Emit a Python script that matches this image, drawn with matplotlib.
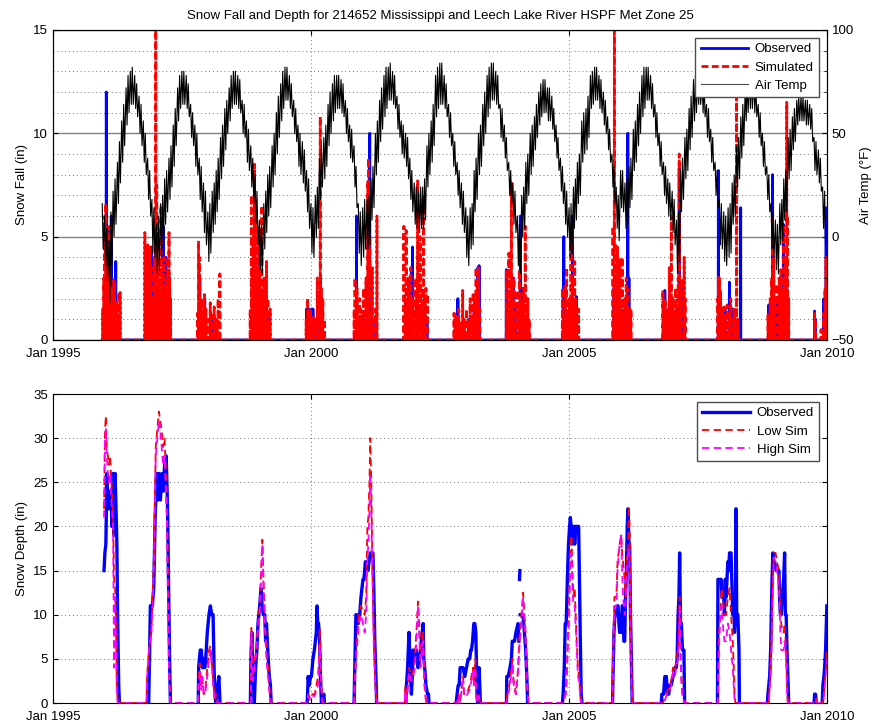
import numpy as np
import pandas as pd
import matplotlib
matplotlib.use("Agg")
import matplotlib.pyplot as plt
import matplotlib.dates as mdates
from matplotlib.ticker import MultipleLocator
from matplotlib.lines import Line2D

plt.rcParams['font.family'] = ['Liberation Sans', 'DejaVu Sans']
plt.rcParams['font.size'] = 9.5

title = "Snow Fall and Depth for 214652 Mississippi and Leech Lake River HSPF Met Zone 25"
data_start = "1995-12-15"
data_end = "2009-12-31"
x_ticks = ["1995-01-01", "2000-01-01", "2005-01-01", "2010-01-01"]

# ---------------- air temperature band (deg F), 1st and 15th of each month
# upper and lower edge of the daily trace
temp_start = "1995-12-15"
air_temp_hi = [16,
    10, 4, -2, 12, 22, 28, 36, 46, 56, 64, 72, 78, 80, 82, 78, 74, 68, 64, 56, 50, 38, 32, 18, 14,    # 1996
    6, 10, 16, 20, 28, 32, 38, 44, 54, 62, 72, 78, 80, 80, 78, 74, 64, 60, 54, 50, 38, 34, 26, 22,    # 1997
    12, 16, 22, 26, 32, 38, 48, 54, 62, 66, 72, 78, 80, 80, 78, 76, 66, 64, 56, 52, 44, 38, 30, 22,   # 1998
    8, 6, 16, 22, 30, 34, 44, 50, 60, 68, 74, 80, 82, 82, 78, 74, 66, 62, 54, 50, 46, 42, 32, 28,     # 1999
    16, 14, 20, 24, 38, 44, 48, 54, 64, 70, 74, 78, 78, 78, 76, 74, 66, 62, 54, 52, 44, 34, 16, 12,   # 2000
    14, 18, 18, 20, 28, 34, 50, 56, 66, 72, 78, 82, 82, 84, 80, 78, 68, 64, 56, 54, 50, 48, 38, 32,   # 2001
    26, 24, 22, 24, 24, 28, 44, 50, 56, 64, 78, 82, 84, 84, 78, 74, 64, 60, 50, 46, 36, 32, 26, 22,   # 2002
    14, 10, 14, 16, 32, 38, 50, 54, 64, 70, 78, 82, 84, 84, 80, 78, 64, 62, 54, 48, 36, 32, 26, 22,   # 2003
    10, 6, 20, 24, 36, 40, 50, 54, 58, 64, 70, 74, 76, 76, 72, 72, 68, 62, 54, 48, 38, 34, 26, 22,    # 2004
    14, 16, 24, 28, 36, 40, 56, 60, 62, 68, 78, 80, 82, 82, 78, 76, 70, 66, 58, 52, 40, 34, 24, 20,   # 2005
    32, 32, 26, 28, 34, 38, 52, 56, 64, 70, 78, 82, 82, 82, 78, 74, 64, 60, 50, 46, 36, 34, 28, 26,   # 2006
    22, 18, 8, 12, 32, 38, 48, 52, 62, 68, 76, 78, 80, 80, 76, 74, 64, 62, 52, 48, 36, 32, 18, 16,    # 2007
    12, 10, 14, 16, 26, 30, 44, 48, 58, 64, 72, 76, 78, 78, 76, 74, 64, 60, 50, 46, 34, 30, 16, 12,   # 2008
    8, 6, 16, 18, 28, 32, 48, 52, 58, 62, 66, 68, 68, 68, 66, 66, 64, 62, 48, 46, 42, 38, 24, 22,     # 2009
]
air_temp_lo = [-6,
    -14, -22, -32, -14, 0, 6, 16, 26, 36, 44, 54, 60, 64, 64, 62, 58, 50, 44, 36, 30, 18, 10, -8, -10,  # 1996
    -18, -16, -10, -4, 6, 12, 18, 24, 34, 44, 56, 62, 64, 64, 62, 58, 48, 44, 34, 30, 18, 12, 2, -4,    # 1997
    -12, -8, 2, 6, 12, 18, 28, 34, 42, 50, 56, 62, 64, 64, 62, 60, 50, 48, 36, 32, 24, 16, 6, -4,       # 1998
    -16, -18, -6, 2, 10, 14, 24, 30, 40, 48, 56, 62, 66, 66, 62, 58, 50, 46, 34, 30, 26, 22, 12, 4,     # 1999
    -8, -10, 0, 4, 18, 24, 28, 34, 44, 50, 56, 60, 62, 62, 60, 58, 50, 46, 38, 36, 24, 14, -8, -14,     # 2000
    -10, -6, -6, -4, 8, 14, 30, 36, 46, 52, 58, 62, 66, 66, 64, 62, 52, 48, 40, 38, 34, 28, 18, 12,     # 2001
    6, 4, 2, 4, 4, 8, 24, 30, 36, 44, 58, 62, 64, 64, 62, 58, 48, 44, 34, 30, 20, 14, 6, 2,             # 2002
    -10, -14, -6, -4, 12, 18, 30, 34, 44, 50, 58, 62, 66, 66, 64, 62, 48, 46, 38, 32, 20, 16, 6, 2,     # 2003
    -14, -18, 0, 4, 16, 20, 30, 34, 42, 48, 54, 58, 60, 60, 56, 56, 52, 46, 38, 32, 22, 16, 6, 0,       # 2004
    -10, -8, 4, 8, 16, 20, 36, 40, 42, 48, 62, 64, 66, 66, 62, 60, 54, 50, 42, 36, 24, 16, 4, -2,       # 2005
    14, 12, 4, 6, 14, 18, 32, 36, 44, 50, 58, 62, 66, 66, 62, 58, 48, 44, 34, 30, 20, 16, 10, 8,        # 2006
    2, -4, -18, -12, 12, 18, 28, 32, 42, 48, 56, 60, 64, 64, 60, 58, 48, 46, 36, 32, 20, 14, -4, -6,    # 2007
    -12, -14, -10, -8, 6, 10, 24, 28, 38, 44, 56, 60, 62, 62, 60, 58, 48, 44, 34, 30, 18, 12, -6, -10,  # 2008
    -16, -18, -4, -2, 8, 12, 28, 32, 42, 46, 54, 56, 56, 56, 54, 54, 52, 46, 32, 30, 26, 22, 4, -4,     # 2009
]

# ---------------- daily snow fall events (in)
obs_fall = [
    ("1995-12-22", 1.5), ("1996-01-13", 12.0), ("1996-01-30", 3.0), ("1996-02-07", 5.5), ("1996-02-17", 6.0),
    ("1996-03-04", 1.0), ("1996-03-20", 3.8), ("1996-04-02", 1.0),
    ("1996-11-28", 4.5), ("1996-12-05", 2.0), ("1996-12-20", 3.0), ("1997-01-10", 2.0), ("1997-01-20", 1.0),
    ("1997-02-21", 5.5), ("1997-03-01", 3.0), ("1997-03-10", 4.0), ("1997-03-25", 2.0),
    ("1997-11-05", 3.0), ("1997-12-10", 2.0), ("1998-01-25", 1.0), ("1998-02-20", 1.0),
    ("1998-11-15", 1.0), ("1998-11-28", 8.0), ("1998-12-20", 2.0), ("1999-01-02", 5.0), ("1999-01-15", 1.0),
    ("1999-02-18", 2.0), ("1999-03-05", 1.0),
    ("1999-12-01", 1.5), ("1999-12-05", 1.5), ("1999-12-10", 1.5), ("1999-12-16", 1.5), ("2000-01-05", 1.5),
    ("2000-01-15", 1.5), ("2000-02-15", 1.0), ("2000-03-08", 3.0), ("2000-03-20", 1.0),
    ("2000-11-18", 6.0), ("2000-12-15", 1.0), ("2001-01-05", 1.0), ("2001-02-20", 10.0), ("2001-03-25", 1.0),
    ("2001-11-10", 1.0), ("2001-12-12", 3.5), ("2001-12-20", 4.5), ("2002-01-20", 1.0), ("2002-02-25", 1.0),
    ("2002-04-01", 1.0),
    ("2002-11-06", 2.0), ("2002-12-15", 0.8), ("2003-01-20", 1.0), ("2003-03-01", 1.5), ("2003-03-28", 3.5),
    ("2003-04-05", 3.6),
    ("2003-10-15", 3.4), ("2003-11-05", 1.0), ("2003-12-05", 3.0), ("2003-12-20", 1.5), ("2004-01-22", 6.0),
    ("2004-02-05", 2.5), ("2004-02-28", 1.0), ("2004-03-20", 1.0),
    ("2004-11-25", 5.0), ("2004-12-10", 1.0), ("2005-01-26", 6.0), ("2005-02-05", 1.0), ("2005-02-22", 2.1),
    ("2005-11-15", 2.5), ("2005-12-15", 2.5), ("2006-01-12", 1.0), ("2006-02-21", 10.0), ("2006-03-01", 3.0),
    ("2006-03-10", 1.0),
    ("2006-11-10", 2.4), ("2006-12-05", 1.0), ("2007-01-10", 1.0), ("2007-02-01", 1.5), ("2007-02-20", 8.3),
    ("2007-03-05", 2.8), ("2007-03-25", 2.0),
    ("2007-11-24", 8.2), ("2007-12-15", 1.0), ("2008-01-10", 1.5), ("2008-02-10", 2.8), ("2008-03-05", 1.5),
    ("2008-04-30", 6.4),
    ("2008-11-15", 1.7), ("2008-12-12", 8.0), ("2009-01-10", 2.0), ("2009-02-01", 1.0), ("2009-02-26", 5.6),
    ("2009-03-22", 3.0),
    ("2009-10-05", 1.4), ("2009-10-12", 1.0), ("2009-12-10", 2.0), ("2009-12-26", 6.4), ("2009-12-30", 4.5),
]

sim_fall = [
    ("1995-12-20", 1.5), ("1995-12-26", 3.0), ("1996-01-02", 6.0), ("1996-01-09", 6.6), ("1996-01-15", 2.0),
    ("1996-01-20", 1.2), ("1996-01-26", 3.5), ("1996-02-03", 5.5), ("1996-02-10", 1.0), ("1996-02-18", 2.5),
    ("1996-02-25", 1.5), ("1996-03-05", 2.9), ("1996-03-12", 2.8), ("1996-03-18", 1.0), ("1996-03-26", 1.8),
    ("1996-04-05", 1.2), ("1996-04-12", 2.3), ("1996-04-20", 2.3),
    ("1996-10-12", 5.2), ("1996-10-22", 2.0), ("1996-11-01", 4.6), ("1996-11-08", 3.0), ("1996-11-15", 4.5),
    ("1996-11-22", 2.5), ("1996-12-01", 3.5), ("1996-12-10", 2.0), ("1996-12-18", 4.0), ("1996-12-28", 15.0),
    ("1997-01-04", 7.5), ("1997-01-10", 3.0), ("1997-01-17", 2.5), ("1997-01-25", 4.0), ("1997-02-03", 6.5),
    ("1997-02-10", 2.0), ("1997-02-18", 3.5), ("1997-02-25", 4.0), ("1997-03-05", 2.5), ("1997-03-14", 3.0),
    ("1997-03-22", 4.0), ("1997-04-01", 5.2), ("1997-04-06", 3.0), ("1997-04-12", 2.0),
    ("1997-10-20", 1.3), ("1997-10-27", 4.8), ("1997-11-03", 4.0), ("1997-11-10", 1.5), ("1997-11-18", 2.0),
    ("1997-11-28", 1.3), ("1997-12-08", 2.2), ("1997-12-18", 1.5), ("1998-01-05", 1.0), ("1998-01-18", 1.8),
    ("1998-02-01", 1.2), ("1998-02-15", 1.6), ("1998-03-03", 1.0), ("1998-03-15", 2.0), ("1998-03-27", 3.2),
    ("1998-10-28", 1.5), ("1998-11-05", 7.0), ("1998-11-10", 3.0), ("1998-11-18", 5.0), ("1998-11-28", 8.5),
    ("1998-12-05", 4.0), ("1998-12-12", 6.3), ("1998-12-18", 2.0), ("1998-12-26", 3.5), ("1999-01-03", 5.0),
    ("1999-01-10", 2.5), ("1999-01-18", 6.5), ("1999-01-26", 2.0), ("1999-02-03", 3.0), ("1999-02-12", 1.5),
    ("1999-02-20", 3.8), ("1999-03-02", 2.0), ("1999-03-10", 1.0), ("1999-03-18", 1.5),
    ("1999-11-28", 1.0), ("1999-12-08", 2.0), ("1999-12-16", 1.0), ("1999-12-28", 1.5), ("2000-01-10", 0.8),
    ("2000-01-20", 1.2), ("2000-02-05", 1.0), ("2000-02-15", 3.0), ("2000-02-25", 2.0), ("2000-03-07", 10.8),
    ("2000-03-15", 2.5), ("2000-03-25", 2.0), ("2000-04-05", 1.0),
    ("2000-11-02", 1.5), ("2000-11-08", 3.0), ("2000-11-15", 2.0), ("2000-11-22", 2.5), ("2000-12-01", 1.0),
    ("2000-12-10", 2.0), ("2000-12-18", 1.5), ("2000-12-28", 1.0), ("2001-01-08", 2.5), ("2001-01-16", 1.0),
    ("2001-01-25", 3.0), ("2001-02-06", 7.7), ("2001-02-12", 8.8), ("2001-02-20", 5.0), ("2001-03-01", 2.0),
    ("2001-03-10", 3.5), ("2001-03-20", 1.0), ("2001-04-02", 1.5), ("2001-04-12", 6.0),
    ("2001-10-20", 5.5), ("2001-10-28", 2.0), ("2001-11-05", 5.3), ("2001-11-12", 1.5), ("2001-11-20", 3.0),
    ("2001-11-28", 1.0), ("2001-12-08", 3.5), ("2001-12-15", 2.0), ("2001-12-26", 1.5), ("2002-01-05", 3.0),
    ("2002-01-15", 2.0), ("2002-01-25", 7.7), ("2002-02-02", 3.0), ("2002-02-12", 5.0), ("2002-02-20", 1.5),
    ("2002-03-01", 2.5), ("2002-03-07", 7.0), ("2002-03-15", 2.0), ("2002-03-25", 2.5), ("2002-04-05", 2.2),
    ("2002-10-10", 1.3), ("2002-10-18", 1.2), ("2002-11-01", 1.0), ("2002-11-12", 1.5), ("2002-11-25", 0.8),
    ("2002-12-10", 2.4), ("2002-12-20", 1.0), ("2003-01-05", 1.5), ("2003-01-18", 1.0), ("2003-02-01", 2.0),
    ("2003-02-12", 1.2), ("2003-02-22", 2.3), ("2003-03-05", 2.0), ("2003-03-15", 3.5), ("2003-03-25", 2.5),
    ("2003-04-02", 3.5), ("2003-04-10", 1.5),
    ("2003-10-15", 3.4), ("2003-10-25", 1.5), ("2003-11-02", 4.2), ("2003-11-10", 2.0), ("2003-11-20", 7.6),
    ("2003-11-28", 2.5), ("2003-12-08", 3.0), ("2003-12-15", 1.5), ("2003-12-25", 2.4), ("2004-01-05", 1.5),
    ("2004-01-15", 3.4), ("2004-01-25", 2.0), ("2004-02-05", 1.5), ("2004-02-15", 2.5), ("2004-02-26", 5.5),
    ("2004-03-05", 2.0), ("2004-03-15", 2.0), ("2004-03-25", 1.0),
    ("2004-11-15", 2.5), ("2004-11-25", 1.0), ("2004-12-05", 2.6), ("2004-12-15", 3.5), ("2004-12-25", 1.5),
    ("2005-01-05", 2.0), ("2005-01-15", 5.0), ("2005-01-22", 3.0), ("2005-02-01", 1.5), ("2005-02-10", 3.8),
    ("2005-02-18", 2.0), ("2005-02-28", 1.0), ("2005-03-10", 1.5),
    ("2005-11-08", 5.5), ("2005-11-14", 3.0), ("2005-11-18", 15.0), ("2005-11-24", 4.7), ("2005-12-02", 2.0),
    ("2005-12-10", 4.5), ("2005-12-16", 2.5), ("2005-12-24", 3.9), ("2006-01-03", 1.5), ("2006-01-12", 4.0),
    ("2006-01-20", 2.0), ("2006-02-01", 2.0), ("2006-02-10", 3.0), ("2006-02-18", 2.5), ("2006-02-26", 1.5),
    ("2006-03-08", 1.5), ("2006-03-15", 1.5),
    ("2006-10-27", 2.4), ("2006-11-03", 1.5), ("2006-11-12", 2.0), ("2006-11-20", 1.0), ("2006-12-01", 1.5),
    ("2006-12-12", 3.5), ("2006-12-26", 6.0), ("2007-01-05", 2.0), ("2007-01-15", 1.5), ("2007-01-25", 2.5),
    ("2007-02-05", 1.5), ("2007-02-13", 3.0), ("2007-02-20", 9.0), ("2007-03-01", 2.0), ("2007-03-10", 3.0),
    ("2007-03-27", 4.0), ("2007-04-03", 2.0),
    ("2007-11-20", 2.0), ("2007-11-24", 3.1), ("2007-12-02", 3.0), ("2007-12-10", 2.4), ("2007-12-20", 1.5),
    ("2008-01-02", 1.6), ("2008-01-12", 1.0), ("2008-01-25", 1.7), ("2008-02-08", 1.3), ("2008-02-20", 2.0),
    ("2008-03-02", 1.0), ("2008-03-15", 1.5), ("2008-04-01", 14.0), ("2008-04-10", 1.0),
    ("2008-11-10", 1.3), ("2008-11-25", 2.0), ("2008-12-05", 3.0), ("2008-12-12", 6.0), ("2008-12-20", 4.0),
    ("2008-12-28", 2.0), ("2009-01-08", 2.7), ("2009-01-18", 1.5), ("2009-01-28", 3.0), ("2009-02-08", 3.4),
    ("2009-02-18", 2.5), ("2009-02-28", 5.6), ("2009-03-08", 3.0), ("2009-03-15", 4.0), ("2009-03-22", 11.5),
    ("2009-03-28", 6.0), ("2009-04-05", 2.0),
    ("2009-10-05", 1.3), ("2009-10-12", 1.0), ("2009-11-20", 0.5), ("2009-12-08", 1.3), ("2009-12-18", 2.5),
    ("2009-12-25", 4.0), ("2009-12-30", 3.0),
]

# ---------------- snow depth (in); None = no observation
obs_depth = [
    ("1995-12-28", 15), ("1996-01-03", 17), ("1996-01-10", 18), ("1996-01-18", 26), ("1996-01-24", 22),
    ("1996-02-01", 24), ("1996-02-08", 22), ("1996-02-15", 24), ("1996-02-22", 20), ("1996-03-01", 26),
    ("1996-03-08", 19), ("1996-03-15", 26), ("1996-03-22", 22), ("1996-03-28", 18), ("1996-04-02", 10),
    ("1996-04-10", 2), ("1996-04-15", 0), ("1996-07-01", None),
    ("1996-11-08", 0), ("1996-11-14", 5), ("1996-11-20", 11), ("1996-12-04", 11), ("1996-12-14", 13),
    ("1996-12-24", 21), ("1997-01-03", 26), ("1997-01-12", 23), ("1997-01-20", 26), ("1997-01-30", 23),
    ("1997-02-10", 26), ("1997-02-20", 24), ("1997-03-01", 27), ("1997-03-12", 28), ("1997-03-22", 22),
    ("1997-03-28", 15), ("1997-04-05", 5), ("1997-04-11", 0), ("1997-07-01", None),
    ("1997-10-25", 0), ("1997-10-28", 4), ("1997-11-08", 6), ("1997-11-16", 6), ("1997-11-24", 4),
    ("1997-12-03", 5), ("1997-12-10", 4), ("1997-12-17", 5), ("1997-12-28", 8), ("1998-01-09", 10),
    ("1998-01-19", 11), ("1998-01-28", 10), ("1998-02-07", 10), ("1998-02-14", 4), ("1998-02-20", 1),
    ("1998-02-26", 0), ("1998-03-05", 1), ("1998-03-20", 3), ("1998-03-28", 0), ("1998-07-01", None),
    ("1998-10-29", 0), ("1998-11-02", 5), ("1998-11-08", 8), ("1998-11-14", 4), ("1998-11-20", 3),
    ("1998-11-26", 0), ("1998-12-05", 4), ("1998-12-14", 6), ("1998-12-22", 9), ("1999-01-03", 11),
    ("1999-01-12", 13), ("1999-01-20", 11), ("1999-01-28", 10), ("1999-02-08", 10), ("1999-02-14", 7),
    ("1999-02-20", 9), ("1999-03-01", 6), ("1999-03-12", 3), ("1999-03-20", 2), ("1999-03-25", 0),
    ("1999-07-01", None),
    ("1999-12-05", 0), ("1999-12-08", 1), ("1999-12-12", 3), ("1999-12-20", 2), ("1999-12-28", 3),
    ("2000-01-04", 3), ("2000-01-15", 5), ("2000-01-25", 6), ("2000-02-01", 7), ("2000-02-08", 8),
    ("2000-02-13", 11), ("2000-02-18", 9), ("2000-02-24", 9), ("2000-03-02", 7), ("2000-03-08", 3),
    ("2000-03-15", 0), ("2000-04-01", 1), ("2000-04-06", 0), ("2000-07-01", None),
    ("2000-11-01", 0), ("2000-11-06", 4), ("2000-11-14", 10), ("2000-11-22", 10), ("2000-12-01", 9),
    ("2000-12-11", 10), ("2000-12-20", 12), ("2001-01-03", 14), ("2001-01-10", 14), ("2001-01-20", 16),
    ("2001-01-28", 16), ("2001-02-07", 15), ("2001-02-15", 16), ("2001-02-24", 17), ("2001-03-05", 17),
    ("2001-03-15", 17), ("2001-03-22", 12), ("2001-03-28", 7), ("2001-04-05", 3), ("2001-04-10", 0),
    ("2001-07-01", None),
    ("2001-11-02", 0), ("2001-11-07", 2), ("2001-11-15", 4), ("2001-11-25", 8), ("2001-12-03", 4),
    ("2001-12-12", 1), ("2001-12-18", 3), ("2001-12-24", 6), ("2001-12-30", 5), ("2002-01-05", 5),
    ("2002-01-10", 6), ("2002-01-16", 6), ("2002-01-28", 4), ("2002-02-08", 5), ("2002-02-20", 7),
    ("2002-03-05", 9), ("2002-03-10", 5), ("2002-03-16", 4), ("2002-03-25", 2), ("2002-04-05", 1),
    ("2002-04-12", 1), ("2002-04-16", 0), ("2002-07-01", None),
    ("2002-10-25", 0), ("2002-10-28", 0.5), ("2002-11-08", 2), ("2002-11-15", 2), ("2002-11-22", 4),
    ("2002-12-05", 4), ("2002-12-13", 4), ("2002-12-25", 3), ("2003-01-06", 4), ("2003-01-18", 5),
    ("2003-01-29", 5), ("2003-02-05", 6), ("2003-02-10", 6), ("2003-02-18", 7), ("2003-02-27", 9),
    ("2003-03-06", 9), ("2003-03-13", 8), ("2003-03-17", 5), ("2003-03-22", 1), ("2003-03-29", 0),
    ("2003-04-05", 4), ("2003-04-10", 2), ("2003-04-14", 0), ("2003-07-01", None),
    ("2003-10-16", 0), ("2003-10-18", 3), ("2003-10-28", 3), ("2003-11-10", 4), ("2003-11-20", 5),
    ("2003-11-26", 7), ("2003-12-02", 7), ("2003-12-12", 7), ("2003-12-22", 8), ("2004-01-06", 9),
    ("2004-01-12", 7), ("2004-01-15", None), ("2004-01-16", 14), ("2004-01-19", 15), ("2004-01-20", None),
    ("2004-01-21", 10), ("2004-02-01", 10), ("2004-02-11", 10), ("2004-02-20", 8), ("2004-02-29", 6),
    ("2004-03-08", 3), ("2004-03-14", 0), ("2004-07-01", None),
    ("2004-11-15", 0), ("2004-11-20", 1), ("2004-11-28", 4), ("2004-12-05", 9), ("2004-12-12", 9),
    ("2004-12-20", 14), ("2004-12-28", 18), ("2005-01-05", 20), ("2005-01-10", 21), ("2005-01-16", 20),
    ("2005-01-22", 18), ("2005-01-29", 20), ("2005-02-05", 20), ("2005-02-10", 18), ("2005-02-18", 20),
    ("2005-03-01", 20), ("2005-03-10", 20), ("2005-03-17", 12), ("2005-03-22", 7), ("2005-03-28", 1),
    ("2005-04-02", 0), ("2005-07-01", None),
    ("2005-11-05", 0), ("2005-11-08", 3), ("2005-11-15", 8), ("2005-11-22", 10), ("2005-12-02", 10),
    ("2005-12-08", 11), ("2005-12-14", 11), ("2005-12-20", 9), ("2005-12-25", 8), ("2006-01-01", 10),
    ("2006-01-06", 8), ("2006-01-12", 11), ("2006-01-18", 11), ("2006-01-24", 7), ("2006-01-30", 7),
    ("2006-02-05", 12), ("2006-02-11", 15), ("2006-02-17", 20), ("2006-02-22", 22), ("2006-03-01", 18),
    ("2006-03-06", 18), ("2006-03-12", 10), ("2006-03-18", 5), ("2006-03-24", 0), ("2006-07-01", None),
    ("2006-10-16", 0), ("2006-10-20", 1), ("2006-11-01", 1), ("2006-11-10", 3), ("2006-11-21", 3),
    ("2006-11-28", 1), ("2006-12-08", 1), ("2006-12-14", 2), ("2006-12-25", 2), ("2007-01-07", 3),
    ("2007-01-20", 4), ("2007-01-30", 4), ("2007-02-05", 5), ("2007-02-12", 10), ("2007-02-18", 12),
    ("2007-02-23", 17), ("2007-03-01", 9), ("2007-03-07", 9), ("2007-03-15", 6), ("2007-03-25", 6),
    ("2007-03-30", 0), ("2007-07-01", None),
    ("2007-11-18", 0), ("2007-11-21", 14), ("2007-12-02", 14), ("2007-12-14", 14), ("2007-12-20", 12),
    ("2008-01-01", 12), ("2008-01-06", 10), ("2008-01-12", 14), ("2008-01-18", 12), ("2008-01-24", 14),
    ("2008-01-30", 16), ("2008-02-05", 15), ("2008-02-11", 17), ("2008-02-22", 17), ("2008-03-05", 10),
    ("2008-03-12", 12), ("2008-03-17", 8), ("2008-03-24", 10), ("2008-03-28", 22), ("2008-04-02", 10),
    ("2008-04-10", 10), ("2008-04-18", 6), ("2008-04-21", 0), ("2008-07-01", None),
    ("2008-11-05", 0), ("2008-11-09", 1), ("2008-11-21", 3), ("2008-11-28", 6), ("2008-12-08", 14),
    ("2008-12-14", 17), ("2008-12-20", 16), ("2008-12-26", 16), ("2009-01-05", 15), ("2009-01-15", 15),
    ("2009-01-26", 15), ("2009-01-30", 12), ("2009-02-05", 10), ("2009-02-11", 10), ("2009-02-18", 12),
    ("2009-02-28", 14), ("2009-03-07", 17), ("2009-03-12", 10), ("2009-03-18", 10), ("2009-03-24", 6),
    ("2009-03-30", 3), ("2009-04-05", 0), ("2009-07-01", None),
    ("2009-10-02", 0), ("2009-10-05", 1), ("2009-10-12", 1), ("2009-10-17", 0), ("2009-10-20", None),
    ("2009-11-28", 0), ("2009-12-03", 2), ("2009-12-10", 3), ("2009-12-15", 4), ("2009-12-22", 6),
    ("2009-12-31", 11),
]

low_sim_depth = [
    ("1995-12-28", 22), ("1996-01-04", 31), ("1996-01-10", 32.5), ("1996-01-16", 29), ("1996-01-24", 28),
    ("1996-02-01", 27), ("1996-02-08", 28), ("1996-02-15", 26), ("1996-02-22", 24), ("1996-03-01", 21),
    ("1996-03-08", 14), ("1996-03-15", 13.5), ("1996-03-22", 9), ("1996-03-28", 2), ("1996-04-03", 0),
    ("1996-10-23", 0), ("1996-10-28", 3), ("1996-11-10", 6), ("1996-11-27", 8), ("1996-12-08", 13),
    ("1996-12-16", 17), ("1996-12-28", 29), ("1997-01-08", 31), ("1997-01-20", 33), ("1997-01-28", 32),
    ("1997-02-08", 31), ("1997-02-18", 29), ("1997-03-01", 30), ("1997-03-10", 26), ("1997-03-18", 22),
    ("1997-03-25", 14), ("1997-04-02", 5), ("1997-04-10", 0),
    ("1997-10-22", 0), ("1997-10-28", 3), ("1997-11-05", 4.5), ("1997-11-14", 2), ("1997-11-22", 3),
    ("1997-12-03", 1), ("1997-12-17", 2), ("1997-12-28", 4), ("1998-01-09", 6), ("1998-01-19", 6.5),
    ("1998-02-01", 4), ("1998-02-10", 2), ("1998-02-20", 0.5), ("1998-03-01", 1), ("1998-03-10", 0),
    ("1998-11-01", 0), ("1998-11-05", 8.5), ("1998-11-10", 5), ("1998-11-17", 3), ("1998-11-29", 5),
    ("1998-12-10", 6), ("1998-12-22", 9), ("1999-01-03", 11), ("1999-01-15", 16), ("1999-01-22", 18.5),
    ("1999-01-30", 14), ("1999-02-08", 10), ("1999-02-19", 6), ("1999-03-03", 4), ("1999-03-12", 2),
    ("1999-03-20", 0),
    ("1999-12-05", 0), ("1999-12-12", 1), ("1999-12-28", 0.5), ("2000-01-10", 1), ("2000-01-28", 1),
    ("2000-02-08", 2), ("2000-02-20", 3), ("2000-02-27", 5), ("2000-03-03", 8.5), ("2000-03-09", 6),
    ("2000-03-15", 2), ("2000-03-22", 0),
    ("2000-11-01", 0), ("2000-11-06", 3), ("2000-11-20", 7), ("2000-12-05", 10), ("2000-12-20", 11),
    ("2001-01-03", 10.5), ("2001-01-15", 10), ("2001-01-26", 12), ("2001-02-03", 20), ("2001-02-10", 21),
    ("2001-02-18", 25), ("2001-02-24", 30), ("2001-03-03", 25), ("2001-03-10", 17), ("2001-03-20", 8),
    ("2001-03-26", 5), ("2001-04-02", 2), ("2001-04-10", 0),
    ("2001-10-26", 0), ("2001-10-30", 2), ("2001-11-08", 0), ("2001-11-25", 4), ("2001-12-12", 3),
    ("2001-12-24", 3.5), ("2002-01-05", 5), ("2002-01-16", 8), ("2002-01-28", 11.5), ("2002-02-05", 9),
    ("2002-02-14", 5), ("2002-02-25", 7), ("2002-03-05", 8), ("2002-03-12", 4), ("2002-03-16", 2),
    ("2002-03-22", 1), ("2002-03-28", 0),
    ("2002-11-01", 0), ("2002-11-10", 1), ("2002-11-20", 0), ("2002-12-13", 3), ("2002-12-20", 1),
    ("2003-01-06", 1), ("2003-01-18", 1.5), ("2003-01-29", 2), ("2003-02-10", 3), ("2003-02-20", 4),
    ("2003-02-27", 2.5), ("2003-03-10", 5), ("2003-03-15", 1), ("2003-03-20", 0), ("2003-04-05", 1),
    ("2003-04-10", 0),
    ("2003-10-16", 0), ("2003-10-22", 1), ("2003-11-05", 2), ("2003-11-20", 4), ("2003-11-28", 5),
    ("2003-12-02", 3), ("2003-12-12", 2), ("2003-12-22", 1), ("2004-01-06", 4), ("2004-01-18", 8),
    ("2004-01-30", 10), ("2004-02-11", 12.5), ("2004-02-20", 10), ("2004-02-29", 8), ("2004-03-08", 3),
    ("2004-03-17", 0.5), ("2004-03-22", 0),
    ("2004-11-20", 0), ("2004-12-08", 1), ("2004-12-15", 3), ("2004-12-25", 8), ("2005-01-02", 12),
    ("2005-01-10", 17), ("2005-01-18", 19), ("2005-01-25", 15), ("2005-02-01", 12), ("2005-02-10", 13),
    ("2005-02-22", 8), ("2005-03-05", 4), ("2005-03-13", 3), ("2005-03-22", 1), ("2005-03-29", 0),
    ("2005-11-05", 0), ("2005-11-09", 6), ("2005-11-18", 12), ("2005-12-02", 12), ("2005-12-10", 16),
    ("2005-12-25", 18), ("2006-01-06", 19), ("2006-01-12", 17), ("2006-01-18", 16), ("2006-01-30", 14),
    ("2006-02-05", 12), ("2006-02-11", 15), ("2006-02-17", 17), ("2006-02-22", 18), ("2006-03-01", 22.3),
    ("2006-03-06", 20), ("2006-03-12", 12), ("2006-03-18", 6), ("2006-03-24", 0),
    ("2006-10-25", 0), ("2006-11-10", 0.5), ("2006-11-21", 1), ("2006-12-14", 2), ("2006-12-25", 2.5),
    ("2007-01-07", 4), ("2007-01-20", 3.5), ("2007-01-30", 5), ("2007-02-10", 6), ("2007-02-18", 8),
    ("2007-02-23", 12), ("2007-03-01", 6), ("2007-03-07", 3), ("2007-03-15", 1), ("2007-03-30", 0),
    ("2007-11-20", 0), ("2007-11-24", 5), ("2007-12-02", 9), ("2007-12-10", 11), ("2007-12-18", 13),
    ("2007-12-25", 12), ("2008-01-06", 10), ("2008-01-18", 10), ("2008-01-30", 12), ("2008-02-11", 13),
    ("2008-02-22", 10), ("2008-03-05", 7), ("2008-03-12", 4), ("2008-03-17", 1), ("2008-03-24", 0),
    ("2008-11-15", 0), ("2008-11-21", 2), ("2008-12-02", 6), ("2008-12-10", 12), ("2008-12-14", 14),
    ("2008-12-20", 17), ("2009-01-02", 17), ("2009-01-12", 16), ("2009-01-26", 15), ("2009-02-05", 10),
    ("2009-02-11", 9), ("2009-02-20", 8), ("2009-03-01", 8), ("2009-03-07", 9), ("2009-03-18", 6),
    ("2009-03-24", 2), ("2009-03-30", 0),
    ("2009-10-10", 0), ("2009-10-17", 0.5), ("2009-10-22", 0), ("2009-12-05", 0), ("2009-12-15", 2),
    ("2009-12-25", 4), ("2009-12-31", 6),
]

high_sim_depth = [
    ("1995-12-28", 21), ("1996-01-04", 30), ("1996-01-10", 31), ("1996-01-16", 28), ("1996-01-24", 26),
    ("1996-02-01", 25), ("1996-02-08", 26), ("1996-02-15", 24), ("1996-02-22", 22), ("1996-03-01", 20),
    ("1996-03-08", 4), ("1996-03-15", 12), ("1996-03-22", 6), ("1996-03-28", 1), ("1996-04-03", 0),
    ("1996-10-23", 0), ("1996-10-28", 3), ("1996-11-10", 6), ("1996-11-27", 8), ("1996-12-08", 12),
    ("1996-12-16", 16), ("1996-12-28", 28), ("1997-01-08", 30), ("1997-01-20", 32), ("1997-01-28", 31),
    ("1997-02-08", 29), ("1997-02-18", 27), ("1997-03-01", 28), ("1997-03-10", 24), ("1997-03-18", 20),
    ("1997-03-25", 11), ("1997-04-02", 3), ("1997-04-10", 0),
    ("1997-10-22", 0), ("1997-10-28", 2.5), ("1997-11-05", 3.5), ("1997-11-14", 1.5), ("1997-11-22", 3),
    ("1997-12-03", 1), ("1997-12-17", 1.5), ("1997-12-28", 3), ("1998-01-09", 5), ("1998-01-19", 6),
    ("1998-02-01", 3.5), ("1998-02-10", 1.5), ("1998-02-20", 0.5), ("1998-03-01", 0),
    ("1998-11-01", 0), ("1998-11-05", 8), ("1998-11-10", 4), ("1998-11-17", 2.5), ("1998-11-29", 4.5),
    ("1998-12-10", 5.5), ("1998-12-22", 8.5), ("1999-01-03", 10), ("1999-01-15", 15), ("1999-01-22", 18),
    ("1999-01-30", 13), ("1999-02-08", 9), ("1999-02-19", 5), ("1999-03-03", 3), ("1999-03-12", 1.5),
    ("1999-03-20", 0),
    ("1999-12-05", 0), ("1999-12-12", 0.8), ("1999-12-28", 0.3), ("2000-01-10", 0.8), ("2000-01-28", 0.8),
    ("2000-02-08", 1.5), ("2000-02-20", 2), ("2000-02-27", 4), ("2000-03-03", 6.5), ("2000-03-09", 4),
    ("2000-03-15", 1.5), ("2000-03-22", 0),
    ("2000-11-01", 0), ("2000-11-06", 2.5), ("2000-11-20", 6), ("2000-12-05", 9), ("2000-12-20", 10),
    ("2001-01-03", 9), ("2001-01-15", 8), ("2001-01-26", 10), ("2001-02-03", 16), ("2001-02-10", 18),
    ("2001-02-18", 22), ("2001-02-24", 26), ("2001-03-03", 22), ("2001-03-10", 15), ("2001-03-20", 7),
    ("2001-03-26", 4), ("2001-04-02", 1.5), ("2001-04-10", 0),
    ("2001-10-26", 0), ("2001-10-30", 1.5), ("2001-11-08", 0), ("2001-11-25", 3.5), ("2001-12-12", 2.5),
    ("2001-12-24", 3), ("2002-01-05", 4), ("2002-01-16", 7), ("2002-01-28", 11), ("2002-02-05", 8),
    ("2002-02-14", 4), ("2002-02-25", 6), ("2002-03-05", 7), ("2002-03-12", 3), ("2002-03-16", 1.5),
    ("2002-03-22", 0.5), ("2002-03-28", 0),
    ("2002-11-01", 0), ("2002-11-10", 0.8), ("2002-11-20", 0), ("2002-12-13", 2.5), ("2002-12-20", 0.8),
    ("2003-01-06", 0.8), ("2003-01-18", 1.2), ("2003-01-29", 1.5), ("2003-02-10", 2.5), ("2003-02-20", 3.5),
    ("2003-02-27", 2), ("2003-03-10", 4), ("2003-03-15", 0.8), ("2003-03-20", 0), ("2003-04-05", 0.8),
    ("2003-04-10", 0),
    ("2003-10-16", 0), ("2003-10-22", 0.8), ("2003-11-05", 1.5), ("2003-11-20", 3.5), ("2003-11-28", 4.5),
    ("2003-12-02", 2.5), ("2003-12-12", 1.5), ("2003-12-22", 1), ("2004-01-06", 3.5), ("2004-01-18", 7),
    ("2004-01-30", 9), ("2004-02-11", 12), ("2004-02-20", 9), ("2004-02-29", 7), ("2004-03-08", 2.5),
    ("2004-03-17", 0.3), ("2004-03-22", 0),
    ("2004-11-20", 0), ("2004-12-08", 1), ("2004-12-15", 2.5), ("2004-12-25", 7), ("2005-01-02", 10),
    ("2005-01-10", 16), ("2005-01-18", 17), ("2005-01-25", 13), ("2005-02-01", 11), ("2005-02-10", 11),
    ("2005-02-22", 7), ("2005-03-05", 3), ("2005-03-13", 2.5), ("2005-03-22", 0.5), ("2005-03-29", 0),
    ("2005-11-05", 0), ("2005-11-09", 5), ("2005-11-18", 11), ("2005-12-02", 11), ("2005-12-10", 15),
    ("2005-12-25", 18), ("2006-01-06", 19), ("2006-01-12", 15), ("2006-01-18", 12), ("2006-01-30", 10),
    ("2006-02-05", 11), ("2006-02-11", 14), ("2006-02-17", 16), ("2006-02-22", 17), ("2006-03-01", 17.5),
    ("2006-03-06", 15), ("2006-03-12", 8), ("2006-03-18", 3), ("2006-03-24", 0),
    ("2006-10-25", 0), ("2006-11-10", 0.3), ("2006-11-21", 0.8), ("2006-12-14", 1.5), ("2006-12-25", 2),
    ("2007-01-07", 3.5), ("2007-01-20", 3), ("2007-01-30", 4), ("2007-02-10", 5), ("2007-02-18", 7),
    ("2007-02-23", 11), ("2007-03-01", 5), ("2007-03-07", 2.5), ("2007-03-15", 0.8), ("2007-03-30", 0),
    ("2007-11-20", 0), ("2007-11-24", 4), ("2007-12-02", 8), ("2007-12-10", 10), ("2007-12-18", 11),
    ("2007-12-25", 9), ("2008-01-06", 7), ("2008-01-18", 7), ("2008-01-30", 9), ("2008-02-11", 8),
    ("2008-02-22", 6), ("2008-03-05", 4), ("2008-03-12", 2), ("2008-03-17", 0.5), ("2008-03-24", 0),
    ("2008-11-15", 0), ("2008-11-21", 1.5), ("2008-12-02", 5), ("2008-12-10", 11), ("2008-12-14", 13),
    ("2008-12-20", 16.5), ("2009-01-02", 16), ("2009-01-12", 15), ("2009-01-26", 13), ("2009-02-05", 8),
    ("2009-02-11", 6), ("2009-02-20", 6), ("2009-03-01", 6), ("2009-03-07", 7), ("2009-03-18", 5),
    ("2009-03-24", 1), ("2009-03-30", 0),
    ("2009-10-10", 0), ("2009-10-17", 0.3), ("2009-10-22", 0), ("2009-12-05", 0), ("2009-12-15", 1.5),
    ("2009-12-25", 3.5), ("2009-12-31", 5),
]


def daily(events):
    days = pd.date_range(data_start, data_end, freq="D")
    s = pd.Series(0.0, index=days)
    for d, v in events:
        s[pd.Timestamp(d)] = v
    return s


def knots(pairs):
    d = pd.to_datetime([p[0] for p in pairs])
    v = np.array([np.nan if p[1] is None else p[1] for p in pairs], dtype=float)
    return d, v


fig = plt.figure(figsize=(8.78, 7.24), dpi=100)

# ----------------------------------- snow fall + air temp
ax = fig.add_axes([0.0604, 0.5304, 0.8815, 0.4282])
obs_s = daily(obs_fall)
sim_s = daily(sim_fall)
ax.plot(obs_s.index, obs_s.values, color="#0000ff", lw=2.0, zorder=3)
ax.plot(sim_s.index, sim_s.values, color="#ff0000", lw=2.0, ls="--", dashes=(2.5, 1.2), zorder=4)
ax.set_ylim(0, 15)
ax.yaxis.set_major_locator(MultipleLocator(5))
ax.yaxis.set_minor_locator(MultipleLocator(1))
ax.grid(which="minor", axis="y", color="0.45", ls=(0, (1, 3)), lw=0.7)
ax.grid(which="major", axis="y", color="0.5", ls="-", lw=1.0)
ax.grid(which="major", axis="x", color="0.45", ls=(0, (1, 3)), lw=0.7)
ax.set_ylabel("Snow Fall (in)")
ax.set_title(title, fontsize=9.5, pad=8)

ax2 = ax.twinx()
# trace alternates between the upper edge (1st/15th) and the lower edge a week later
hi_dates = pd.date_range(temp_start, periods=len(air_temp_hi), freq="SMS")
lo_dates = hi_dates + pd.Timedelta(days=7)
t_dates = np.empty(2 * len(hi_dates), dtype="datetime64[ns]")
t_vals = np.empty(2 * len(hi_dates))
t_dates[0::2], t_dates[1::2] = hi_dates.values, lo_dates.values
t_vals[0::2], t_vals[1::2] = air_temp_hi, air_temp_lo
ax2.plot(t_dates, t_vals, color="black", lw=0.8, zorder=5)
ax2.set_ylim(-50, 100)
ax2.yaxis.set_major_locator(MultipleLocator(50))
ax2.yaxis.set_minor_locator(MultipleLocator(10))
ax2.set_ylabel("Air Temp (\u00b0F)")

# ----------------------------------- snow depth
bx = fig.add_axes([0.0604, 0.029, 0.8815, 0.4268])
od, ov = knots(obs_depth)
ld, lv = knots(low_sim_depth)
hd, hv = knots(high_sim_depth)
bx.plot(od, ov, color="#0000ff", lw=2.4, label="Observed")
bx.plot(ld, lv, color="#ff0000", lw=1.3, ls="--", dashes=(4, 2.5), label="Low Sim")
bx.plot(hd, hv, color="#ff00ff", lw=1.3, ls="--", dashes=(4, 2.5), label="High Sim")
bx.set_ylim(0, 35)
bx.yaxis.set_major_locator(MultipleLocator(5))
bx.grid(which="major", color="0.45", ls=(0, (1, 3)), lw=0.7)
bx.set_ylabel("Snow Depth (in)")
bx.legend(loc="upper right", fancybox=False, edgecolor="0.3", framealpha=1,
          handlelength=3.6, borderpad=0.4, labelspacing=0.45, handletextpad=0.5,
          fontsize=9.5, borderaxespad=0.6)

xt = pd.to_datetime(x_ticks)
for a in (ax, bx):
    a.set_xlim(xt[0], xt[-1])
    a.set_xticks(xt)
    a.xaxis.set_major_formatter(mdates.DateFormatter("%b %Y"))
    a.tick_params(which="both", direction="in", top=True)
    a.tick_params(axis="x", pad=6)
    a.tick_params(axis="y", which="minor", length=0)
    a.set_axisbelow(True)
bx.tick_params(axis="y", right=True)
ax2.tick_params(which="both", direction="in")
ax2.tick_params(which="minor", length=2.5)

handles = [Line2D([], [], color="#0000ff", lw=2.0),
           Line2D([], [], color="#ff0000", lw=2.0, ls="--", dashes=(2.5, 1.2)),
           Line2D([], [], color="0.3", lw=0.8)]
ax2.legend(handles, ["Observed", "Simulated", "Air Temp"], loc="upper right", fancybox=False,
           edgecolor="0.3", framealpha=1, handlelength=3.6, borderpad=0.4, labelspacing=0.45,
           handletextpad=0.5, fontsize=9.5, borderaxespad=0.6)

fig.savefig("out.png", dpi=100)
